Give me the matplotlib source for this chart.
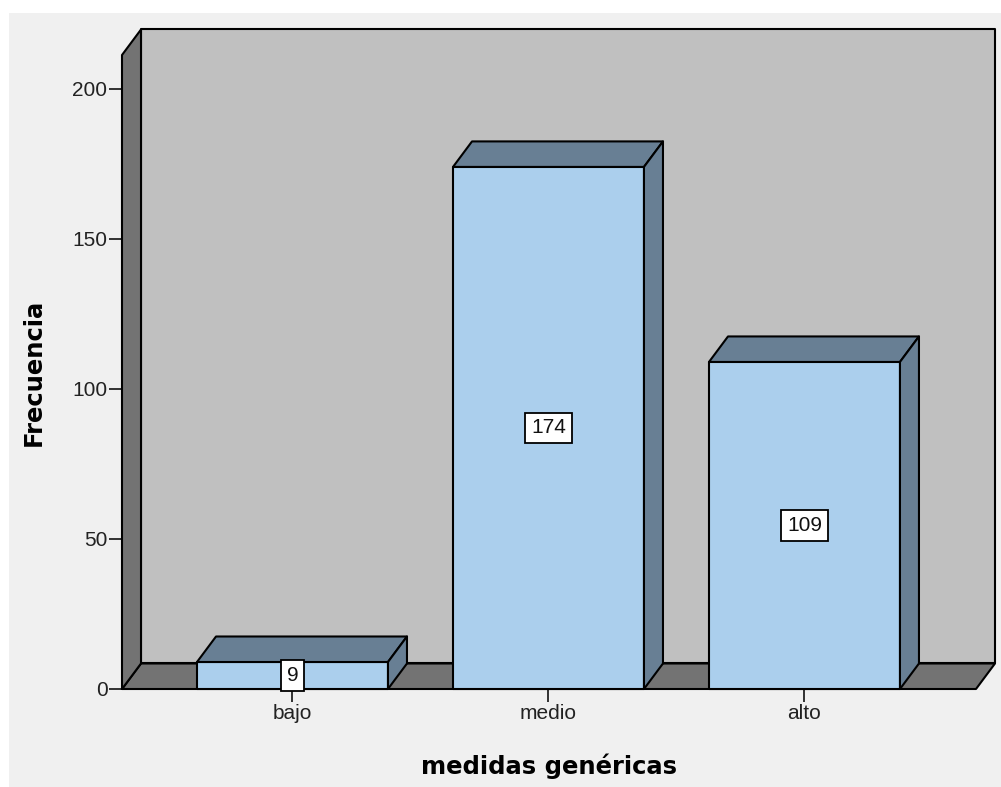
import matplotlib
matplotlib.use("Agg")
import matplotlib.pyplot as plt
from matplotlib.patches import Polygon, Rectangle

# frequency table
categories = ["bajo", "medio", "alto"]
counts = [9, 174, 109]
y_ticks = [0, 50, 100, 150, 200]

# colours
BG = "#f0f0f0"
WALL_BACK = "#c0c0c0"
WALL_SIDE = "#737373"
BAR_FRONT = "#abcfed"
BAR_SHADE = "#687f94"

fig = plt.figure(figsize=(10.01, 7.87), dpi=100)
fig.patch.set_facecolor("white")
fig.patches.append(Rectangle((9 / 1001, 0), 1, 1 - 13 / 787, transform=fig.transFigure,
                             facecolor=BG, edgecolor="none", zorder=-10))

ax = fig.add_axes([122 / 1001, 1 - 689 / 787, 854 / 1001, 634 / 787])
ax.set_facecolor("none")

xl, xr = -0.666, 2.670
ymax = 211.3
ax.set_xlim(xl, xr)
ax.set_ylim(0, ymax)

# depth of the 3d effect, in data units
ddx = 19 / 256
ddy = 25.5 / 3.0
width = 0.746
lw = 1.5


def poly(pts, color, z):
    ax.add_patch(Polygon(pts, closed=True, facecolor=color, edgecolor="black",
                         linewidth=lw, joinstyle="round", clip_on=False, zorder=z))


# back wall, floor and left wall
poly([(xl + ddx, ddy), (xr + ddx, ddy), (xr + ddx, ymax + ddy), (xl + ddx, ymax + ddy)], WALL_BACK, 1)
poly([(xl, 0), (xr, 0), (xr + ddx, ddy), (xl + ddx, ddy)], WALL_SIDE, 2)
poly([(xl, 0), (xl + ddx, ddy), (xl + ddx, ymax + ddy), (xl, ymax)], WALL_SIDE, 2)

# bars
for i, v in enumerate(counts):
    x0, x1 = i - width / 2, i + width / 2
    poly([(x0, 0), (x1, 0), (x1, v), (x0, v)], BAR_FRONT, 3)
    poly([(x0, v), (x1, v), (x1 + ddx, v + ddy), (x0 + ddx, v + ddy)], BAR_SHADE, 3)
    poly([(x1, 0), (x1 + ddx, ddy), (x1 + ddx, v + ddy), (x1, v)], BAR_SHADE, 3)
    ax.text(i, v / 2, str(v), ha="center", va="center", fontsize=15,
            family="Liberation Sans", color="#111", zorder=5,
            bbox=dict(boxstyle="square,pad=0.28", facecolor="white", edgecolor="black", linewidth=1.3))

for s in ax.spines.values():
    s.set_visible(False)

ax.set_xticks(range(len(categories)))
ax.set_xticklabels(categories)
ax.set_yticks(y_ticks)
ax.tick_params(axis="both", length=9.5, width=1.3, color="#222", labelcolor="#222",
               labelsize=15, pad=1)
for lab in ax.get_xticklabels() + ax.get_yticklabels():
    lab.set_family("Liberation Sans")

ax.set_xlabel("medidas genéricas", fontsize=17.5, fontweight="bold", family="DejaVu Sans", labelpad=22)
ax.set_ylabel("Frecuencia", fontsize=17.5, fontweight="bold", family="DejaVu Sans", labelpad=19)

fig.savefig("out.png", dpi=100, facecolor=fig.get_facecolor())
